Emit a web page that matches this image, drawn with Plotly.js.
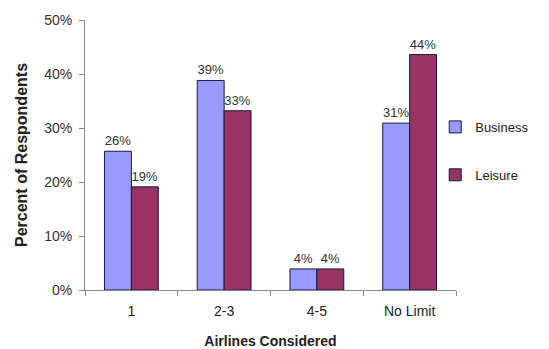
<!DOCTYPE html>
<html>
<head>
<meta charset="utf-8">
<script src="https://cdn.plot.ly/plotly-3.0.1.min.js"></script>
<style>html,body{margin:0;padding:0;background:#fff;}#chart{width:549px;height:349px;}</style>
</head>
<body>
<div id="chart"></div>
<script>
const categories = ['1', '2-3', '4-5', 'No Limit'];
const businessValues = [25.7, 38.8, 3.9, 30.9];
const leisureValues = [19.1, 33.2, 3.9, 43.6];
const businessLabels = ['26%', '39%', '4%', '31%'];
const leisureLabels = ['19%', '33%', '4%', '44%'];
const yTickValues = [0, 10, 20, 30, 40, 50];
const yTickLabels = ['0%', '10%', '20%', '30%', '40%', '50%'];

const font = 'Liberation Sans, Arial, sans-serif';

const traces = [
  {
    type: 'bar', name: 'Business', x: categories, y: businessValues,
    text: businessLabels, textposition: 'outside', cliponaxis: false,
    textfont: {family: font, size: 13, color: '#333'},
    marker: {color: '#9999FF', line: {color: '#1a1a3a', width: 1}},
    legendgroup: 'a', hoverinfo: 'none'
  },
  {
    type: 'bar', name: 'Leisure', x: categories, y: leisureValues,
    text: leisureLabels, textposition: 'outside', cliponaxis: false,
    textfont: {family: font, size: 13, color: '#333'},
    marker: {color: '#993366', line: {color: '#1a1a3a', width: 1}},
    legendgroup: 'b', hoverinfo: 'none'
  }
];

const layout = {
  width: 549, height: 349,
  margin: {l: 85, r: 93, t: 20, b: 59},
  paper_bgcolor: '#fff', plot_bgcolor: '#fff',
  font: {family: font, size: 13, color: '#333'},
  barmode: 'group', bargap: 0.42, bargroupgap: 0,
  showlegend: true,
  legend: {x: 0.944, y: 0.515, xanchor: 'left', yanchor: 'middle',
           bgcolor: 'rgba(0,0,0,0)',
           font: {family: font, size: 13, color: '#222'},
           tracegroupgap: 28, traceorder: 'grouped', itemwidth: 30},
  xaxis: {
    type: 'category', showline: true, linecolor: '#888', linewidth: 1,
    ticks: 'outside', tickson: 'boundaries', ticklen: 5, tickcolor: '#888',
    tickfont: {family: font, size: 14, color: '#222'}, ticklabelstandoff: 8,
    showgrid: false, zeroline: false,
    title: {text: 'Airlines Considered', font: {family: font, size: 14, color: '#222', weight: 'bold'}, standoff: 18}
  },
  yaxis: {
    range: [0, 50], tickvals: yTickValues, ticktext: yTickLabels,
    showline: true, linecolor: '#888', linewidth: 1,
    ticks: 'outside', ticklen: 5, tickcolor: '#888',
    tickfont: {family: font, size: 14, color: '#333'}, ticklabelstandoff: 4,
    showgrid: false, zeroline: false,
    title: {text: 'Percent of Respondents', font: {family: font, size: 16, color: '#222', weight: 'bold'}, standoff: 12}
  }
};

Plotly.newPlot('chart', traces, layout, {displayModeBar: false, staticPlot: true});
</script>
</body>
</html>
